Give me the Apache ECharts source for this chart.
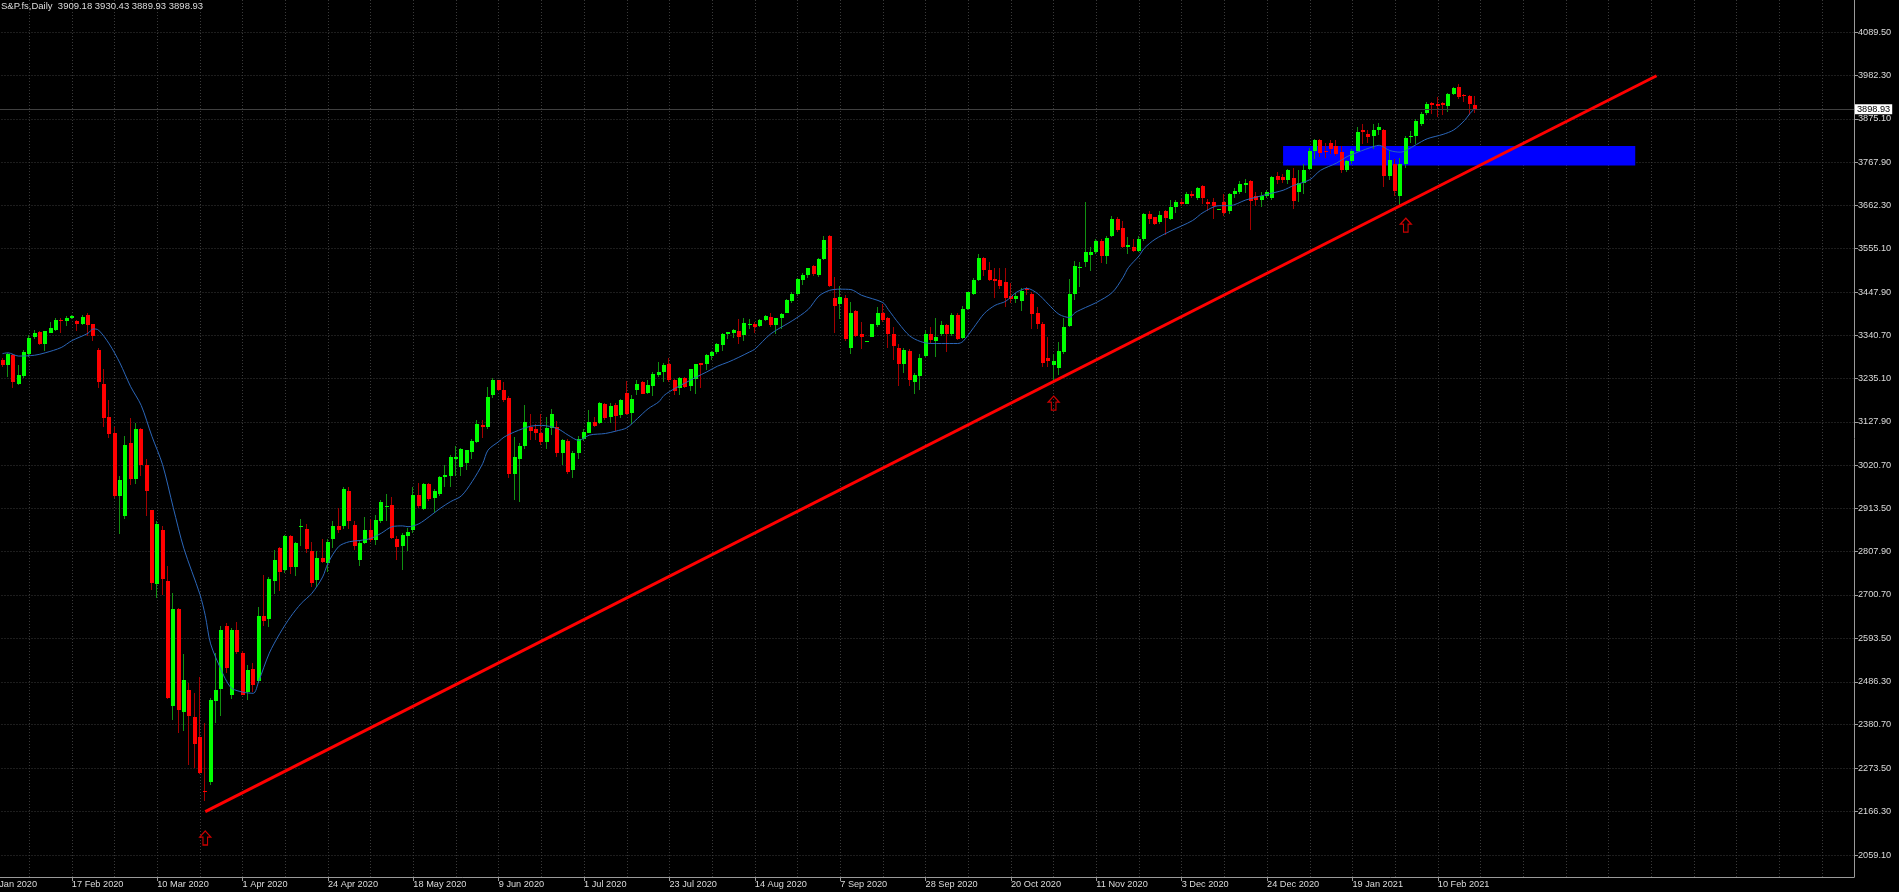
<!DOCTYPE html>
<html><head><meta charset="utf-8">
<script src="https://cdn.jsdelivr.net/npm/echarts@6/dist/echarts.min.js"></script>
<style>html,body{margin:0;padding:0;background:#000;}#c{width:1899px;height:892px;}</style>
</head><body><div id="c"></div>
<script>
// ---------- DATA ----------
const symbolName = 'S&P.fs,Daily';
// axis slots (trading sessions as shown on the chart)
const sessionDays = [
 ['2020-01',[24,27,28,29,30,31]],
 ['2020-02',[3,4,5,6,7,10,11,12,13,14,17,18,19,20,21,24,25,26,27,28]],
 ['2020-03',[2,3,4,5,6,9,10,11,12,13,16,17,18,19,20,23,24,25,26,27,30,31]],
 ['2020-04',[1,2,3,6,7,8,9,13,14,15,16,17,20,21,22,23,24,27,28,29,30]],
 ['2020-05',[1,4,5,6,7,8,11,12,13,14,15,18,19,20,21,22,25,26,27,28,29]],
 ['2020-06',[1,2,3,4,5,8,9,10,11,12,15,16,17,18,19,22,23,24,25,26,29,30]],
 ['2020-07',[1,2,3,6,7,8,9,10,13,14,15,16,17,20,21,22,23,24,27,28,29,30,31]],
 ['2020-08',[3,4,5,6,7,10,11,12,13,14,17,18,19,20,21,24,25,26,27,28,31]],
 ['2020-09',[1,2,3,4,7,8,9,10,11,13,14,15,16,17,18,21,22,23,24,25,28,29,30]],
 ['2020-10',[1,2,5,6,7,8,9,12,13,14,15,16,19,20,21,22,23,26,27,28,29,30]],
 ['2020-11',[2,3,4,5,6,9,10,11,12,13,16,17,18,19,20,23,24,25,26,27,30]],
 ['2020-12',[1,2,3,4,7,8,9,10,11,13,14,15,16,17,18,21,22,23,24,28,29,30,31]],
 ['2021-01',[4,5,6,7,8,11,12,13,14,15,18,19,20,21,22,25,26,27,28,29]],
 ['2021-02',[1,2,3,4,5,8,9,10,11,12,15,16,17,18,19]]
];
const futureSlots = 71;
const firstCandleDate = '2020-01-29';
// [open, high, low, close] per session from firstCandleDate
const candles = [
[3281,3286,3262,3267],[3269,3298,3238,3295],[3292,3296,3212,3226],[3220,3267,3218,3244],[3240,3306,3235,3300],
[3296,3343,3287,3335],[3337,3355,3333,3347],[3349,3351,3318,3320],[3320,3353,3302,3351],[3347,3374,3346,3358],
[3355,3383,3353,3380],[3380,3384,3346,3376],[3376,3388,3364,3383],[3383,3391,3382,3388],[3376,3378,3353,3369],
[3368,3392,3366,3386],[3391,3397,3339,3366],[3368,3370,3327,3339],[3306,3310,3212,3226],[3220,3257,3115,3136],
[3139,3182,3088,3098],[3100,3115,2940,2944],[2944,2994,2851,2985],[2895,3092,2887,3070],[3076,3136,2973,2986],
[2986,3125,2975,3111],[3109,3113,2994,3021],[3022,3035,2895,2958],[2909,2911,2714,2731],[2728,2883,2694,2875],
[2860,2870,2700,2739],[2736,2772,2443,2447],[2426,2706,2393,2667],[2667,2669,2361,2416],[2412,2554,2365,2490],
[2465,2484,2282,2402],[2399,2459,2274,2332],[2350,2498,2258,2262],[2217,2385,2192,2214],[2239,2447,2233,2441],
[2439,2558,2385,2467],[2469,2624,2402,2615],[2624,2632,2509,2521],[2455,2620,2443,2613],[2613,2634,2554,2560],
[2558,2562,2453,2455],[2460,2528,2442,2516],[2517,2532,2462,2479],[2488,2670,2483,2649],[2649,2750,2624,2637],
[2641,2746,2621,2739],[2736,2812,2703,2787],[2816,2820,2711,2758],[2762,2849,2754,2846],[2846,2849,2752,2769],
[2769,2832,2748,2830],[2868,2887,2822,2871],[2863,2876,2805,2813],[2809,2832,2720,2729],[2738,2808,2720,2791],
[2791,2838,2779,2783],[2779,2838,2758,2832],[2838,2884,2816,2871],[2871,2914,2853,2861],[2871,2966,2863,2961],
[2958,2966,2863,2884],[2873,2882,2812,2821],[2787,2836,2772,2830],[2828,2892,2826,2861],[2861,2887,2832,2835],
[2835,2898,2824,2886],[2882,2935,2877,2931],[2919,2950,2882,2920],[2923,2942,2838,2840],[2838,2845,2787,2818],
[2822,2854,2761,2849],[2846,2865,2808,2857],[2861,2966,2853,2947],[2947,2978,2914,2919],[2912,2978,2909,2974],
[2974,2976,2933,2937],[2939,2961,2904,2958],[2950,2993,2945,2991],[2991,3021,2968,2997],[2994,3046,2966,3040],
[3037,3067,2994,3040],[3017,3062,2993,3060],[3027,3058,3009,3057],[3054,3085,3035,3081],[3079,3132,3075,3122],
[3120,3132,3087,3116],[3114,3213,3109,3188],[3194,3235,3186,3231],[3230,3232,3204,3207],[3207,3226,3177,3181],
[3186,3192,2990,3000],[3000,3090,2935,3040],[3035,3075,2930,3068],[3068,3169,3060,3128],[3115,3148,3082,3106],
[3111,3122,3082,3099],[3099,3146,3070,3078],[3078,3140,3060,3113],[3112,3160,3095,3146],[3114,3129,3040,3052],
[3050,3086,3022,3082],[3080,3085,2998,3005],[3008,3055,2990,3050],[3050,3092,3035,3086],[3086,3111,3080,3103],
[3100,3156,3099,3128],[3128,3140,3114,3117],[3125,3177,3123,3173],[3171,3174,3133,3136],[3140,3173,3125,3166],
[3169,3173,3105,3142],[3144,3183,3136,3181],[3199,3228,3144,3146],[3150,3193,3122,3185],[3207,3232,3193,3222],
[3225,3229,3196,3197],[3199,3232,3196,3218],[3216,3251,3191,3245],[3243,3276,3239,3251],[3251,3273,3226,3267],
[3270,3286,3226,3232],[3232,3234,3193,3204],[3210,3239,3193,3236],[3236,3239,3210,3214],[3216,3259,3204,3257],
[3234,3271,3197,3270],[3272,3274,3212,3268],[3271,3294,3255,3292],[3290,3303,3280,3300],[3299,3322,3295,3319],
[3317,3347,3303,3345],[3344,3350,3331,3350],[3346,3357,3334,3355],[3351,3382,3319,3337],[3341,3385,3327,3372],
[3366,3381,3356,3368],[3368,3373,3348,3362],[3364,3382,3362,3378],[3378,3392,3377,3388],[3387,3395,3362,3367],
[3366,3385,3344,3383],[3383,3395,3356,3393],[3397,3430,3395,3428],[3426,3447,3422,3444],[3444,3482,3438,3479],
[3477,3496,3466,3489],[3490,3508,3482,3507],[3512,3515,3488,3492],[3490,3533,3484,3529],[3529,3586,3526,3576],
[3586,3588,3460,3463],[3434,3484,3348,3414],[3418,3463,3381,3436],[3433,3440,3327,3331],[3310,3424,3296,3397],
[3400,3403,3336,3340],[3344,3373,3307,3336],[3326,3328,3325,3327],[3337,3370,3336,3368],[3367,3410,3362,3395],
[3397,3418,3373,3378],[3383,3387,3311,3345],[3345,3362,3280,3315],[3311,3319,3216,3271],[3270,3311,3249,3304],
[3303,3307,3216,3230],[3227,3249,3197,3244],[3241,3296,3206,3286],[3290,3354,3288,3345],[3345,3362,3321,3329],
[3327,3383,3288,3337],[3344,3377,3340,3367],[3367,3370,3299,3344],[3344,3397,3340,3392],[3392,3397,3329,3331],
[3334,3414,3331,3405],[3405,3449,3403,3447],[3444,3482,3441,3477],[3477,3541,3475,3531],[3531,3535,3488,3502],
[3502,3521,3474,3477],[3479,3508,3433,3475],[3477,3507,3455,3463],[3472,3508,3410,3433],[3438,3469,3420,3430],
[3430,3445,3420,3437],[3425,3458,3400,3450],[3455,3460,3440,3453],[3444,3447,3356,3393],[3395,3410,3356,3369],
[3369,3373,3262,3274],[3285,3336,3262,3278],[3268,3296,3227,3278],[3260,3324,3244,3303],[3301,3385,3296,3361],
[3365,3480,3361,3443],[3443,3525,3428,3513],[3507,3523,3461,3510],[3521,3669,3509,3547],[3540,3560,3500,3546],
[3546,3578,3541,3574],[3574,3578,3520,3537],[3537,3587,3517,3582],[3587,3636,3584,3628],[3628,3632,3595,3601],
[3606,3624,3556,3560],[3560,3583,3541,3564],[3560,3578,3546,3550],[3548,3587,3546,3578],[3578,3642,3574,3640],
[3640,3648,3615,3628],[3632,3634,3614,3617],[3620,3647,3617,3638],[3647,3650,3589,3630],[3628,3675,3625,3658],
[3658,3675,3642,3671],[3671,3677,3661,3666],[3666,3694,3665,3691],[3691,3698,3680,3686],[3681,3708,3675,3704],
[3710,3713,3665,3681],[3671,3677,3647,3665],[3669,3681,3628,3661],[3652,3654,3651,3653],[3671,3691,3636,3642],
[3647,3693,3640,3689],[3689,3705,3680,3696],[3694,3722,3690,3715],[3713,3727,3692,3717],[3722,3725,3600,3672],
[3686,3695,3660,3676],[3676,3694,3658,3686],[3686,3700,3680,3694],[3680,3735,3676,3731],[3733,3745,3715,3725],
[3731,3738,3718,3725],[3725,3752,3715,3750],[3730,3755,3653,3672],[3694,3750,3670,3718],[3717,3765,3690,3750],
[3752,3804,3750,3797],[3797,3826,3777,3824],[3822,3826,3782,3791],[3797,3815,3779,3794],[3815,3822,3788,3800],
[3807,3822,3783,3789],[3793,3807,3741,3748],[3750,3774,3745,3771],[3771,3800,3765,3796],[3796,3855,3793,3843],
[3848,3863,3814,3843],[3838,3848,3815,3830],[3834,3862,3800,3848],[3847,3866,3835,3855],[3847,3851,3707,3733],
[3733,3795,3725,3773],[3764,3775,3686,3697],[3686,3779,3662,3764],[3764,3832,3755,3829],[3830,3845,3815,3832],
[3832,3875,3812,3870],[3863,3892,3858,3888],[3889,3916,3885,3912],[3914,3917,3888,3910],[3912,3929,3880,3908],
[3914,3917,3884,3910],[3908,3939,3892,3937],[3937,3954,3935,3952],[3954,3960,3925,3929],[3933,3937,3917,3931],
[3931,3933,3884,3912],[3909.18,3930.43,3889.93,3898.93]
];
// moving average: [session index from firstCandleDate, value]
const maPoints = [
[0,3296],[1,3298],[3,3290],[6,3292],[8,3298],[11,3311],[13,3328],[16,3346],[17,3357],[18,3354],[20,3320],[22,3273],
[24,3215],[26,3168],[28,3092],[30,3022],[32,2916],[34,2815],[37,2702],[38,2650],[39,2580],[41,2515],[42,2488],[43,2470],
[45,2461],[47,2458],[48,2487],[50,2557],[52,2606],[54,2647],[56,2680],[58,2705],[60,2745],[61,2779],[63,2820],[65,2832],
[67,2835],[69,2840],[71,2853],[73,2869],[75,2871],[76,2869],[78,2876],[80,2894],[82,2914],[84,2931],[86,2945],[88,2980],
[90,3025],[91,3058],[93,3079],[94,3090],[96,3103],[99,3117],[101,3119],[104,3111],[106,3095],[108,3082],[110,3095],
[113,3099],[115,3105],[117,3113],[119,3136],[121,3160],[123,3177],[124,3193],[126,3210],[128,3224],[130,3238],[132,3251],
[134,3265],[136,3275],[138,3287],[140,3300],[141,3307],[144,3345],[148,3377],[151,3405],[153,3438],[155,3452],[157,3455],
[159,3454],[161,3440],[165,3422],[166,3405],[168,3370],[170,3340],[172,3326],[174,3321],[176,3321],[179,3321],[180,3326],
[182,3360],[184,3395],[186,3415],[188,3425],[190,3447],[192,3457],[194,3444],[196,3418],[198,3393],[200,3385],[201,3397],
[203,3410],[205,3422],[208,3447],[210,3484],[211,3508],[213,3537],[214,3556],[216,3578],[219,3599],[223,3624],[225,3644],
[228,3661],[230,3661],[233,3675],[235,3682],[237,3689],[240,3699],[242,3711],[245,3725],[247,3748],[250,3766],[252,3782],
[254,3793],[257,3807],[258,3810],[260,3797],[262,3793],[263,3797],[265,3812],[267,3826],[270,3837],[272,3848],[274,3871],
[275,3888],[276,3902]
];
const yTickLabels = ['4089.50','3982.30','3875.10','3767.90','3662.30','3555.10','3447.90','3340.70','3235.10','3127.90',
 '3020.70','2913.50','2807.90','2700.70','2593.50','2486.30','2380.70','2273.50','2166.30','2059.10'];
const trendStart = ['2020-03-23', 2166];
const trendEnd = [272, 3981.5];           // [sessions after start, price]
const zone = {from: '2020-12-30', sessions: 66, top: 3808, bottom: 3760};
const arrows = [['2020-03-23', 2101], ['2020-10-30', 3174], ['2021-02-02', 3613]];
const priceRange = [2004.8, 4168.4];

// ---------- BUILD ----------
const categories = [];
sessionDays.forEach(([ym, days]) => days.forEach(d => categories.push(ym + '-' + String(d).padStart(2, '0'))));
for (let i = 1; i <= futureSlots; i++) categories.push('+' + i);
const offset = categories.indexOf(firstCandleDate);
const lastDataIdx = offset + candles.length - 1;
const MONTHS = ['Jan','Feb','Mar','Apr','May','Jun','Jul','Aug','Sep','Oct','Nov','Dec'];
function fmtDate(s) {
  const p = s.split('-');
  if (p.length < 3) return '';
  return parseInt(p[2], 10) + ' ' + MONTHS[parseInt(p[1], 10) - 1] + ' ' + p[0];
}
const idxOf = d => categories.indexOf(d);
const candleData = candles.map((c, i) => [offset + i, c[0], c[1], c[2], c[3]]);
const maData = maPoints.map(([i, v]) => [offset + i, v]);
const t0 = idxOf(trendStart[0]);
const trendData = [[t0, trendStart[1]], [t0 + trendEnd[0], trendEnd[1]]];
const z0 = idxOf(zone.from);
const arrowData = arrows.map(([d, v]) => [idxOf(d), v]);
const last = candles[candles.length - 1];
const yTickValues = yTickLabels.map(Number);

const FONT = 'Liberation Sans, Arial, sans-serif';
const TXT = '#dcdcdc';
const AXIS = '#9a9a9a';
const GRID = '#3a3a3a';
const bodyUp = '#00ff00', bodyDn = '#ff0000', wickUp = '#119011', wickDn = '#a30000';

function renderCandle(params, api) {
  const x = api.value(0);
  const o = api.value(1), h = api.value(2), l = api.value(3), c = api.value(4);
  const pO = api.coord([x, o]), pC = api.coord([x, c]);
  const pH = api.coord([x, h]), pL = api.coord([x, l]);
  const bull = c >= o;
  const bw = 4;
  const left = Math.round(pO[0] - bw / 2);
  const top = Math.round(Math.min(pO[1], pC[1]));
  const bot = Math.round(Math.max(pO[1], pC[1]));
  const wx = left + 1.5;
  return {
    type: 'group',
    children: [
      {type: 'line', shape: {x1: wx, y1: Math.round(pH[1]), x2: wx, y2: Math.round(pL[1])},
       style: {stroke: bull ? wickUp : wickDn, lineWidth: 1}},
      {type: 'rect', shape: {x: left, y: top, width: bw, height: Math.max(1, bot - top)},
       style: {fill: bull ? bodyUp : bodyDn}}
    ]
  };
}

const chart = echarts.init(document.getElementById('c'), null, {renderer: 'canvas'});
chart.setOption({
  animation: false,
  backgroundColor: '#000000',
  title: {
    text: symbolName + '  ' + last.map(v => v.toFixed(2)).join(' '),
    left: 1, top: 1, padding: 0,
    textStyle: {color: TXT, fontSize: 9.5, fontWeight: 'normal', fontFamily: FONT}
  },
  grid: {left: -13.5, right: 45, top: 0, bottom: 15, containLabel: false, outerBoundsMode: 'none'},
  xAxis: {
    type: 'category',
    data: categories,
    boundaryGap: false,
    axisLine: {show: true, lineStyle: {color: AXIS, width: 1}},
    axisTick: {show: true, length: 4, lineStyle: {color: AXIS},
      interval: (i) => i % 16 === 0 && i <= lastDataIdx},
    axisLabel: {
      show: true, color: TXT, fontSize: 9.2, fontFamily: FONT, align: 'left', margin: 3,
      interval: (i) => i % 16 === 0 && i <= lastDataIdx,
      formatter: (v) => fmtDate(v)
    },
    splitLine: {show: true, interval: (i) => i % 8 === 0,
      lineStyle: {color: GRID, type: [1, 2], width: 1}}
  },
  yAxis: {
    type: 'value',
    position: 'right',
    min: priceRange[0], max: priceRange[1],
    axisLine: {show: true, lineStyle: {color: AXIS, width: 1}},
    axisTick: {show: true, length: 4, lineStyle: {color: AXIS}, customValues: yTickValues},
    axisLabel: {
      show: true, color: TXT, fontSize: 9.2, fontFamily: FONT, margin: 4,
      customValues: yTickValues,
      formatter: (v) => {
        const s = yTickLabels.find(t => Math.abs(Number(t) - v) < 1e-6);
        return s || v.toFixed(2);
      }
    },
    splitLine: {show: true, lineStyle: {color: GRID, type: [1, 2], width: 1}}
  },
  series: [
    {
      type: 'custom',
      name: 'candles',
      renderItem: renderCandle,
      data: candleData,
      encode: {x: 0, y: [1, 2, 3, 4]},
      clip: false,
      z: 3
    },
    {
      type: 'line',
      name: 'MA',
      data: maData,
      showSymbol: false,
      smooth: 0.3,
      lineStyle: {color: '#2b66b8', width: 1},
      z: 4,
      markLine: {
        silent: true,
        symbol: ['none', 'none'],
        data: [{yAxis: last[3]}],
        lineStyle: {color: '#404040', type: 'solid', width: 1},
        label: {
          show: true, position: 'end', distance: 1,
          formatter: last[3].toFixed(2),
          backgroundColor: '#ffffff', color: '#000000',
          fontSize: 9.2, fontFamily: FONT, padding: [1, 2, 0, 2]
        }
      }
    },
    {
      type: 'line',
      name: 'trend',
      data: trendData,
      showSymbol: false,
      lineStyle: {color: '#ff0000', width: 3},
      z: 5,
      markArea: {
        silent: true,
        itemStyle: {color: '#0000ff', opacity: 1},
        data: [[{coord: [z0, zone.top]}, {coord: [z0 + zone.sessions, zone.bottom]}]]
      }
    },
    {
      type: 'scatter',
      name: 'arrows',
      data: arrowData,
      symbol: 'path://M6,0 L12,6.5 L8.5,6.5 L8.5,15 L3.5,15 L3.5,6.5 L0,6.5 Z',
      symbolSize: [11, 14],
      itemStyle: {color: 'rgba(0,0,0,0)', borderColor: '#ff0000', borderWidth: 1.2},
      z: 6
    }
  ]
});
</script>
</body></html>
